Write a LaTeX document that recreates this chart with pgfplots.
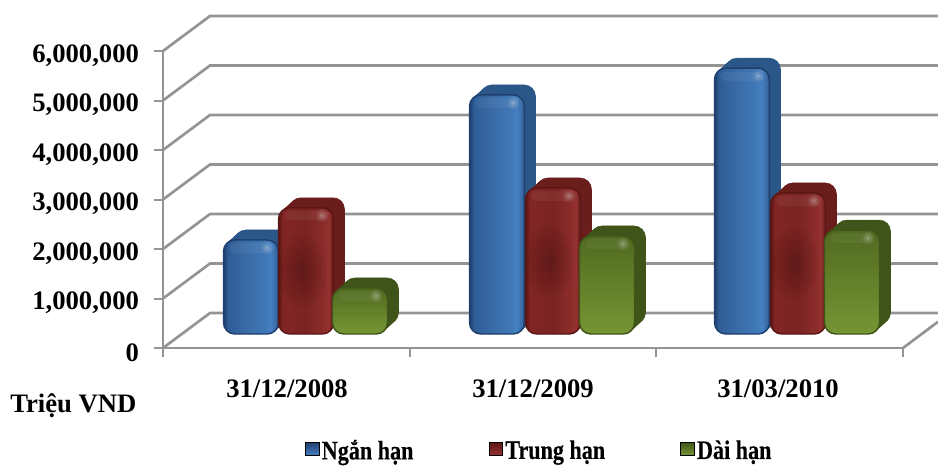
\documentclass[border=0pt]{standalone}
\usepackage{fontspec}
\setmainfont{Liberation Serif}
\newfontfamily\legfont{Liberation Serif Bold}[FakeStretch=0.83, FakeBold=0.3]
\usepackage{pgfplots}
\pgfplotsset{compat=1.18}

\definecolor{wallgray}{HTML}{949494}
\definecolor{bluedeep}{HTML}{2B5788}
\definecolor{reddeep}{HTML}{691E1C}
\definecolor{greendeep}{HTML}{3F5418}
\definecolor{blueedge}{HTML}{1F3F6C}
\definecolor{rededge}{HTML}{5A1614}
\definecolor{greenedge}{HTML}{3F5519}
\definecolor{ba}{HTML}{2E5D96}
\definecolor{bb}{HTML}{3A6BA6}
\definecolor{bc}{HTML}{3F78B6}
\definecolor{bd}{HTML}{4580C2}
\definecolor{be}{HTML}{3768A2}
\definecolor{ra}{HTML}{822624}
\definecolor{rb}{HTML}{7A2422}
\definecolor{rc}{HTML}{8C2C2A}
\definecolor{rd}{HTML}{943230}
\definecolor{gtop}{HTML}{506A20}
\definecolor{gbot}{HTML}{769634}

\pgfdeclarehorizontalshading{blueface}{100bp}{color(0bp)=(blueedge); color(25bp)=(blueedge); color(29bp)=(ba); color(45bp)=(bb); color(62bp)=(bc); color(68bp)=(bd); color(73bp)=(be); color(75bp)=(blueedge); color(100bp)=(blueedge)}
\pgfdeclarehorizontalshading{redface}{100bp}{color(0bp)=(rededge); color(25bp)=(rededge); color(29bp)=(ra); color(50bp)=(rb); color(66bp)=(rc); color(71bp)=(rd); color(75bp)=(rededge); color(100bp)=(rededge)}

\tikzset{
  bluefill/.style={shading=blueface},
  redfill/.style={shading=redface},
  greenfill/.style={top color=gtop, bottom color=gbot},
}

% 1 px = 0.75 pt; bars stand 14 px above the front floor line
\pgfplotsset{
  wall/.style={forget plot, no marks, draw=wallgray, line width=2pt},
  barbase/.style={forget plot, ybar, bar width=55, rounded corners=8.5pt, yshift=10.5pt},
  glow/.style={forget plot, only marks, mark=*, yshift=4.5pt},
  patch/.style={forget plot, only marks, mark=*, yshift=10.5pt, mark size=#1,
    mark options={draw=none, fill=black, yscale=1.5, opacity=0.03}},
}

\newcommand{\wallline}[2]{\addplot[wall] coordinates {(163,#1) (210,#2) (938,#2)};}
\newcommand{\depthcopy}[5]{\addplot[barbase, fill=#3deep, draw=#3deep, xshift=#4pt, yshift=#5pt] coordinates {(#1,#2)};}
\newcommand{\glassbar}[3]{%
  \depthcopy{#1}{#2}{#3}{8.25}{7.5}
  \depthcopy{#1}{#2}{#3}{6.6}{6}
  \depthcopy{#1}{#2}{#3}{4.95}{4.5}
  \depthcopy{#1}{#2}{#3}{3.3}{3}
  \depthcopy{#1}{#2}{#3}{1.65}{1.5}
  \addplot[barbase, #3fill, draw=#3edge, line width=1.1pt] coordinates {(#1,#2)};
  \addplot[forget plot, no marks, draw=white, opacity=0.05, line width=7pt, line cap=round, yshift=4.5pt] coordinates {(#1-17,#2) (#1+17,#2)};
  \addplot[glow, mark size=5pt, mark options={draw=none, fill=white, opacity=0.07}] coordinates {(#1+16,#2)};
  \addplot[glow, mark size=3.4pt, mark options={draw=none, fill=white, opacity=0.10}] coordinates {(#1+16,#2)};
  \addplot[glow, mark size=1.8pt, mark options={draw=none, fill=white, opacity=0.14}] coordinates {(#1+16,#2)};
}
% the dark patch in the middle of a red bar
\newcommand{\redpatch}[2]{%
  \addplot[patch=18pt] coordinates {(#1-4,#2/2)};
  \addplot[patch=15pt] coordinates {(#1-4,#2/2)};
  \addplot[patch=12pt] coordinates {(#1-4,#2/2)};
  \addplot[patch=9pt] coordinates {(#1-4,#2/2)};
  \addplot[patch=6pt] coordinates {(#1-4,#2/2)};
  \addplot[patch=3pt] coordinates {(#1-4,#2/2)};
}

\begin{document}
\begin{tikzpicture}[x=0.75pt,y=0.75pt]
\path[use as bounding box] (0,0) rectangle (938,465);
\begin{axis}[
  at={(122.25pt,87.75pt)}, anchor=south west,
  scale only axis, width=555pt, height=222.75pt,
  xmin=163, xmax=903, ymin=0, ymax=6000000,
  clip=false,
  axis lines=left,
  axis line style={-, draw=wallgray, line width=2pt},
  tick align=outside,
  major tick length=7pt,
  tick style={draw=wallgray, line width=1.5pt},
  ytick={0,1000000,2000000,3000000,4000000,5000000,6000000},
  scaled y ticks=false,
  /pgf/number format/fixed,
  /pgf/number format/precision=0,
  /pgf/number format/1000 sep={,},
  /pgf/number format/assume math mode=true,
  yticklabel style={font=\fontsize{20}{20}\selectfont\bfseries, xshift=-7.5pt, yshift=-3.5pt},
  xtick={163,410,656,903},
  xticklabels={,,,},
  extra x ticks={287,533,778},
  extra x tick labels={31/12/2008,31/12/2009,31/03/2010},
  extra x tick style={major tick length=0pt,
    tick label style={font=\fontsize{20}{20}\selectfont\bfseries, yshift=-20.5pt}},
  legend columns=3,
  legend style={draw=none, fill=none, font=\legfont\fontsize{20}{20}\selectfont,
    at={(axis cs:305,-2350000)}, anchor=south west, inner sep=0pt,
    /tikz/every even column/.append style={column sep=54.5pt}},
]
% walls: front value, then the same gridline on the back wall
\wallline{0}{707000}
\wallline{1000000}{1707000}
\wallline{2000000}{2707000}
\wallline{3000000}{3707000}
\wallline{4000000}{4707000}
\wallline{5000000}{5707000}
\wallline{6000000}{6707000}
\addplot[wall] coordinates {(903,0) (938,530000)};

\glassbar{251}{1900000}{blue}
\glassbar{306}{2550000}{red}
\redpatch{306}{2550000}
\glassbar{360}{930000}{green}
\glassbar{497}{4830000}{blue}
\glassbar{553}{2950000}{red}
\redpatch{553}{2950000}
\glassbar{607}{1980000}{green}
\glassbar{742}{5370000}{blue}
\glassbar{798}{2850000}{red}
\redpatch{798}{2850000}
\glassbar{852}{2100000}{green}

\addlegendimage{legend image code/.code={\shade[top color=blueedge, bottom color=bd] (0pt,-3.5pt) rectangle (10pt,6.5pt);}}
\addlegendimage{legend image code/.code={\shade[top color=rededge, bottom color=rd] (0pt,-3.5pt) rectangle (10pt,6.5pt);}}
\addlegendimage{legend image code/.code={\shade[top color=greenedge, bottom color=gbot] (0pt,-3.5pt) rectangle (10pt,6.5pt);}}
\legend{Ngắn hạn, Trung hạn, Dài hạn}

\node[anchor=base west, font=\fontsize{20}{20}\selectfont\bfseries, inner sep=0pt] at (axis cs:10,-1313000) {Triệu VND};
\end{axis}
\end{tikzpicture}
\end{document}
